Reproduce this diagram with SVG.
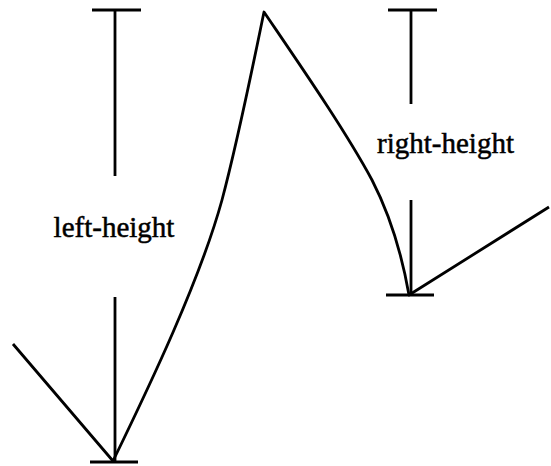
<svg xmlns="http://www.w3.org/2000/svg" width="551" height="466" viewBox="0 0 551 466">
<style>
.ln{fill:none;stroke:#000;stroke-width:2.8;stroke-linejoin:round;stroke-linecap:butt}
.lb{font-family:"Liberation Serif","Times New Roman",serif;font-size:29px;fill:#000;stroke:#000;stroke-width:0.5}
</style>
<rect width="551" height="466" fill="#fff"/>
<g id="connectors">
<path class="ln" d="M13,344 L113,461 C150,385 200,280 222,200 C238,140 252,70 264,12 C300,65 345,130 372,180 C390,215 402,255 409,295 L549,207"/>
</g>
<g id="left-height">
<path class="ln" d="M92,10 H141 M115,10 V176 M115,297 V462 M90,462 H138"/>
<text class="lb" x="114" y="237" text-anchor="middle">left-height</text>
</g>
<g id="right-height">
<path class="ln" d="M388,10 H437 M411,10 V104 M411,200 V295 M386,295 H434"/>
<text class="lb" x="445.5" y="153" text-anchor="middle">right-height</text>
</g>
</svg>
